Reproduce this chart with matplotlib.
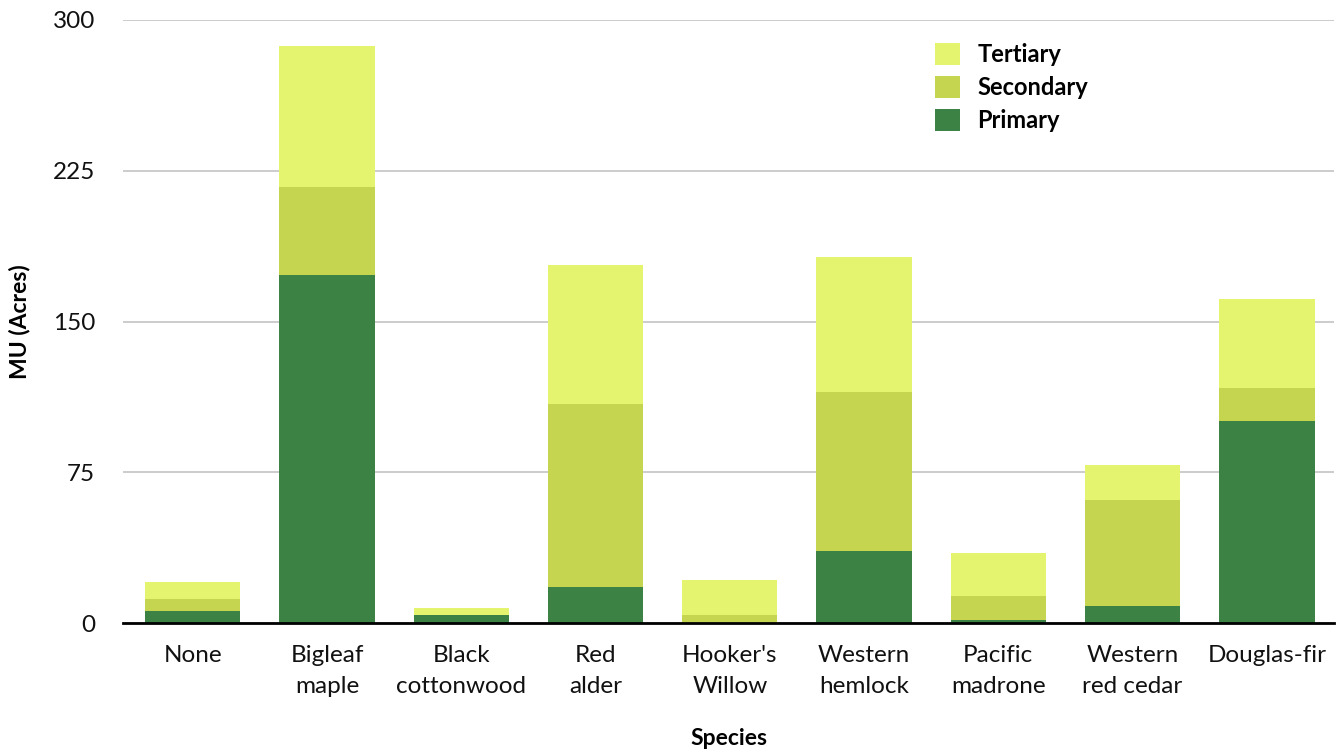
import numpy as np
import matplotlib.pyplot as plt

plt.rcParams['font.family'] = ['Lato', 'DejaVu Sans']

species = ['None', 'Bigleaf\nmaple', 'Black\ncottonwood', 'Red\nalder', "Hooker's\nWillow",
           'Western\nhemlock', 'Pacific\nmadrone', 'Western\nred cedar', 'Douglas-fir']
primary = [6, 173, 4, 18, 0, 36, 1.5, 8.5, 100.5]
secondary = [6, 44, 0, 91, 4, 79, 12, 52.5, 16.5]
tertiary = [8.5, 70, 3.5, 69, 17.5, 67, 21.5, 17.5, 44]
yticks = [0, 75, 150, 225, 300]

c_prim = '#3c8245'
c_sec = '#c6d54f'
c_ter = '#e4f46f'

fig = plt.figure(figsize=(13.4, 7.54), dpi=100)
ax = fig.add_axes([0.0918, 0.1737, 0.9037, 0.7998])

x = np.arange(len(species))
p = np.array(primary)
s = np.array(secondary)
t = np.array(tertiary)
w = 0.71
b1 = ax.bar(x, p, width=w, color=c_prim, label='Primary', zorder=3)
b2 = ax.bar(x, s, width=w, bottom=p, color=c_sec, label='Secondary', zorder=3)
b3 = ax.bar(x, t, width=w, bottom=p + s, color=c_ter, label='Tertiary', zorder=3)

ax.set_xlim(-0.52, len(species) - 0.5)
ax.set_ylim(0, 300)
ax.set_yticks(yticks)
ax.set_yticklabels([str(v) for v in yticks])
ax.set_xticks(x)
ax.set_xticklabels(species)
ax.grid(axis='y', color='#c4c4c4', linewidth=1.2, zorder=0)
for sp in ['top', 'right', 'left']:
    ax.spines[sp].set_visible(False)
ax.spines['bottom'].set_color('black')
ax.spines['bottom'].set_linewidth(2)
ax.spines['bottom'].set_zorder(4)
ax.tick_params(axis='both', length=0, labelsize=17.5, colors='#111111')
ax.tick_params(axis='x', pad=16)
ax.tick_params(axis='y', pad=20)
for lbl in ax.get_xticklabels():
    lbl.set_linespacing(1.6)

ax.set_xlabel('Species', fontsize=16.5, fontweight='bold', labelpad=22)
ax.set_ylabel('MU (Acres)', fontsize=16.5, fontweight='bold', labelpad=16)

leg = ax.legend([b3, b2, b1], ['Tertiary', 'Secondary', 'Primary'],
                loc='upper left', bbox_to_anchor=(0.653, 0.997), frameon=False,
                prop={'weight': 'bold', 'size': 17}, handlelength=1.05, handleheight=1.05,
                handletextpad=0.75, labelspacing=0.42)

fig.savefig('out.png', dpi=100)
